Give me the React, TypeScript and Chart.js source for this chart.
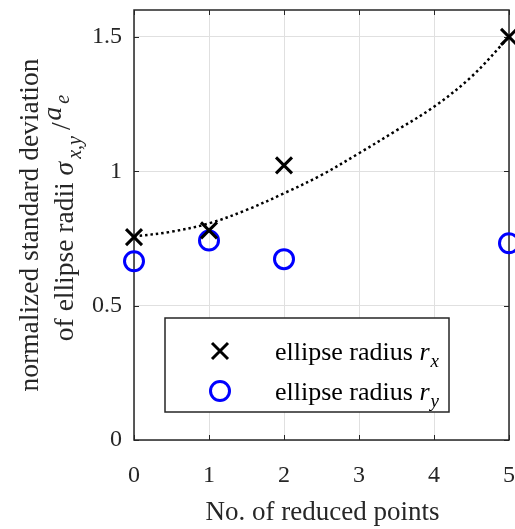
import React, { useEffect, useRef } from "react";
import { Chart, registerables } from "chart.js";

Chart.register(...registerables);

// ---- data ----
const xTicks = [0, 1, 2, 3, 4, 5];
const yTicks = [0, 0.5, 1, 1.5];
const reducedPoints = [0, 1, 2, 5];
const radiusX = [0.755, 0.78, 1.022, 1.5];
const radiusY = [0.665, 0.742, 0.673, 0.732];
const fitX = [0, 0.5, 1, 1.5, 2, 2.5, 3, 3.5, 4, 4.5, 5];
const fitY = [0.757, 0.775, 0.806, 0.856, 0.918, 0.986, 1.067, 1.152, 1.24, 1.352, 1.5];

const xTitle = "No. of reduced points";
const yTitleLine1 = "normalized standard deviation";
const yTitleLine2 = "of ellipse radii ";
const legendText = "ellipse radius ";
const legendSymbol = "r";
const legendSubs = ["x", "y"];

const FONT = '"Liberation Serif", "Times New Roman", serif';
const TEXT = "#262626";
const BLUE = "rgb(0,0,255)";

type Seg = { t: string; italic?: boolean; sub?: boolean; dy?: number; gapAfter?: number };

function segFont(s: Seg, size: number, subSize: number) {
  return `${s.italic ? "italic " : ""}${s.sub ? subSize : size}px ${FONT}`;
}

function drawRich(ctx: CanvasRenderingContext2D, segs: Seg[], x: number, y: number, size: number, subSize: number, align: "left" | "center") {
  let total = 0;
  const widths = segs.map((s) => {
    ctx.font = segFont(s, size, subSize);
    const w = ctx.measureText(s.t).width + (s.gapAfter || 0);
    total += w;
    return w;
  });
  let cx = align === "center" ? x - total / 2 : x;
  ctx.textAlign = "left";
  ctx.textBaseline = "alphabetic";
  segs.forEach((s, i) => {
    ctx.font = segFont(s, size, subSize);
    ctx.fillText(s.t, cx, y + (s.dy || 0));
    cx += widths[i];
  });
}

const zeroPadding = (s: any) => {
  s.paddingLeft = 0;
  s.paddingRight = 0;
  s.paddingTop = 0;
  s.paddingBottom = 0;
};

const decor = {
  id: "decor",
  beforeDatasetsDraw(chart: any) {
    const { ctx, chartArea: a, scales } = chart;
    const xs = scales.x;
    const ys = scales.y;
    ctx.save();
    ctx.strokeStyle = TEXT;
    ctx.lineWidth = 1;
    ctx.beginPath();
    xTicks.forEach((v) => {
      const px = Math.round(xs.getPixelForValue(v)) + 0.5;
      ctx.moveTo(px, a.bottom);
      ctx.lineTo(px, a.bottom - 5);
      ctx.moveTo(px, a.top);
      ctx.lineTo(px, a.top + 5);
    });
    yTicks.forEach((v) => {
      const py = Math.round(ys.getPixelForValue(v)) + 0.5;
      ctx.moveTo(a.left, py);
      ctx.lineTo(a.left + 5, py);
      ctx.moveTo(a.right, py);
      ctx.lineTo(a.right - 5, py);
    });
    ctx.stroke();
    ctx.lineWidth = 1.5;
    ctx.strokeRect(a.left, a.top, a.right - a.left, a.bottom - a.top);
    ctx.restore();
  },
  afterDraw(chart: any) {
    const { ctx, chartArea: a } = chart;
    ctx.save();
    ctx.fillStyle = TEXT;

    // x axis title
    ctx.font = `27px ${FONT}`;
    ctx.textAlign = "center";
    ctx.textBaseline = "alphabetic";
    ctx.fillText(xTitle, (a.left + a.right) / 2 + 1, 520);

    // y axis title (two lines, rotated)
    ctx.save();
    ctx.translate(38, (a.top + a.bottom) / 2);
    ctx.rotate(-Math.PI / 2);
    ctx.font = `27.5px ${FONT}`;
    ctx.textAlign = "center";
    ctx.fillText(yTitleLine1, 0, 0);
    ctx.restore();

    ctx.save();
    ctx.translate(73, 218);
    ctx.rotate(-Math.PI / 2);
    drawRich(
      ctx,
      [
        { t: yTitleLine2 },
        { t: "\u03C3", italic: true, gapAfter: 3 },
        { t: "x,y", italic: true, sub: true, dy: 8, gapAfter: 6 },
        { t: "/", dy: -3, gapAfter: 2 },
        { t: "a", italic: true, dy: -12, gapAfter: 3 },
        { t: "e", italic: true, sub: true, dy: -4 },
      ],
      0,
      0,
      27.5,
      20,
      "center"
    );
    ctx.restore();

    // legend box
    const bx = a.left + 31;
    const by = a.top + 308;
    const bw = 284;
    const bh = 94;
    ctx.fillStyle = "#ffffff";
    ctx.fillRect(bx, by, bw, bh);
    ctx.strokeStyle = TEXT;
    ctx.lineWidth = 1.5;
    ctx.strokeRect(bx, by, bw, bh);

    const mx = bx + 55;
    const rows = [by + 33, by + 73];
    // cross marker
    ctx.strokeStyle = "#000000";
    ctx.lineWidth = 3;
    ctx.beginPath();
    ctx.moveTo(mx - 8, rows[0] - 8);
    ctx.lineTo(mx + 8, rows[0] + 8);
    ctx.moveTo(mx + 8, rows[0] - 8);
    ctx.lineTo(mx - 8, rows[0] + 8);
    ctx.stroke();
    // circle marker
    ctx.strokeStyle = BLUE;
    ctx.beginPath();
    ctx.arc(mx, rows[1], 9.5, 0, Math.PI * 2);
    ctx.stroke();

    ctx.fillStyle = "#000000";
    rows.forEach((ry, i) => {
      drawRich(
        ctx,
        [
          { t: legendText },
          { t: legendSymbol, italic: true, gapAfter: 1 },
          { t: legendSubs[i], italic: true, sub: true, dy: 7 },
        ],
        bx + 110,
        ry + 9,
        26,
        19,
        "left"
      );
    });
    ctx.restore();
  },
};

export default function App() {
  const ref = useRef<HTMLCanvasElement | null>(null);

  useEffect(() => {
    if (!ref.current) return;
    const tickFont = { family: FONT, size: 24 };
    const chart = new Chart(ref.current, {
      type: "scatter",
      data: {
        datasets: [
          {
            label: "ellipse radius r_x",
            data: reducedPoints.map((x, i) => ({ x, y: radiusX[i] })),
            pointStyle: "crossRot",
            pointRadius: 11.3,
            pointBorderWidth: 3,
            borderColor: "#000000",
            backgroundColor: "#000000",
            showLine: false,
            clip: false,
          },
          {
            label: "ellipse radius r_y",
            data: reducedPoints.map((x, i) => ({ x, y: radiusY[i] })),
            pointStyle: "circle",
            pointRadius: 9.5,
            pointBorderWidth: 3,
            borderColor: BLUE,
            backgroundColor: "rgba(0,0,0,0)",
            showLine: false,
            clip: false,
          },
          {
            label: "fit",
            data: fitX.map((x, i) => ({ x, y: fitY[i] })),
            showLine: true,
            pointRadius: 0,
            borderColor: "#000000",
            borderWidth: 2.5,
            borderDash: [2.5, 3],
            tension: 0.35,
            fill: false,
            clip: false,
          },
        ],
      },
      options: {
        animation: false,
        responsive: false,
        events: [],
        layout: { autoPadding: false, padding: { top: 10, right: 6, left: 0, bottom: 0 } },
        plugins: { legend: { display: false }, tooltip: { enabled: false } },
        scales: {
          x: {
            type: "linear",
            min: 0,
            max: 5,
            afterBuildTicks: (s: any) => {
              s.ticks = xTicks.map((v) => ({ value: v }));
            },
            afterFit: (s: any) => {
              s.height = 89;
              zeroPadding(s);
            },
            ticks: { font: tickFont, color: TEXT, padding: 21, callback: (v: any) => String(v) },
            grid: { color: "#e0e0e0", drawTicks: false, lineWidth: 1 },
            border: { display: false },
          },
          y: {
            type: "linear",
            min: 0,
            max: 1.6,
            afterBuildTicks: (s: any) => {
              s.ticks = yTicks.map((v) => ({ value: v }));
            },
            afterFit: (s: any) => {
              s.width = 134;
              zeroPadding(s);
            },
            ticks: { font: tickFont, color: TEXT, padding: 12, callback: (v: any) => String(v) },
            grid: { color: "#e0e0e0", drawTicks: false, lineWidth: 1 },
            border: { display: false },
          },
        },
      },
      plugins: [decor],
    });
    return () => chart.destroy();
  }, []);

  return (
    <div style={{ position: "absolute", left: 0, top: 0, width: 515, height: 529 }}>
      <canvas ref={ref} width={515} height={529} />
    </div>
  );
}
